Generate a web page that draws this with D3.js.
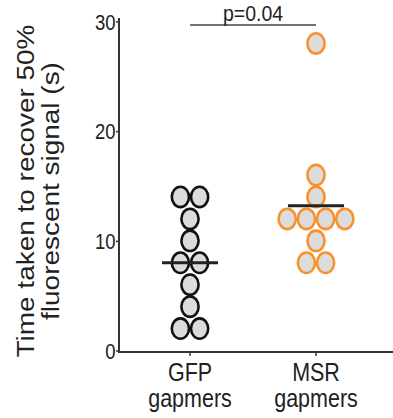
<!DOCTYPE html>
<meta charset="utf-8">
<title>Recovery time dot plot</title>
<style>
body { margin: 0; background: #fff; }
text { font-family: "Liberation Sans", Arial, sans-serif; fill: #222; }
</style>
<script src="https://d3js.org/d3.v7.min.js"></script>
<div id="chart"></div>
<script>
// data
var groups = ["GFP", "MSR"];
var groupLabels = [["GFP", "gapmers"], ["MSR", "gapmers"]];
var gfpValues = [14, 14, 12, 10, 8, 8, 6, 4, 2, 2];
var msrValues = [28, 16, 14, 12, 12, 12, 12, 10, 8, 8];
var yTicks = [0, 10, 20, 30];
var pLabel = "p=0.04";
var strokeColors = { GFP: "#111", MSR: "#f7922e" };

var width = 393, height = 418;
var stretch = 1.17; // the source figure is a bit taller than wide

var svg = d3.select("#chart").append("svg")
  .attr("width", width)
  .attr("height", height);

var y = d3.scaleLinear().domain([0, 30]).range([350.5, 21.5]);
var x = d3.scalePoint().domain(groups).range([190, 316]);

var axisX = 119, axisY = 352;

// y axis
var yAxis = svg.append("g")
  .attr("transform", "translate(" + axisX + ",0)")
  .call(d3.axisLeft(y).tickValues(yTicks).tickSize(3).tickSizeOuter(0));
yAxis.select(".domain").remove();
yAxis.selectAll("line").attr("stroke", "#333").attr("stroke-width", 1.5);
yAxis.selectAll("text")
  .attr("x", null).attr("dy", null)
  .attr("transform", "translate(-3.5,0) scale(1," + stretch + ")")
  .attr("dy", "0.36em")
  .style("font-size", "18.5px")
  .style("font-family", "Liberation Sans, Arial, sans-serif")
  .attr("fill", "#222");

svg.append("line")
  .attr("x1", axisX).attr("x2", axisX)
  .attr("y1", 18).attr("y2", axisY + 1)
  .attr("stroke", "#333").attr("stroke-width", 2);

// x axis
svg.append("line")
  .attr("x1", axisX - 1).attr("x2", width)
  .attr("y1", axisY).attr("y2", axisY)
  .attr("stroke", "#333").attr("stroke-width", 2);

svg.selectAll(".xtick").data(groups).enter().append("line")
  .attr("x1", function(d) { return x(d); }).attr("x2", function(d) { return x(d); })
  .attr("y1", axisY).attr("y2", axisY + 4)
  .attr("stroke", "#333").attr("stroke-width", 1.5);

groups.forEach(function(g, i) {
  groupLabels[i].forEach(function(t, j) {
    svg.append("text")
      .attr("transform", "translate(" + x(g) + "," + (381 + j * 26) + ") scale(1," + stretch + ")")
      .attr("text-anchor", "middle")
      .style("font-size", "21.5px")
      .text(t);
  });
});

// y title (stretched along its length)
var titleLines = ["Time taken to recover 50%", "fluorescent signal (s)"];
titleLines.forEach(function(t, j) {
  svg.append("text")
    .attr("transform", "translate(" + (34 + j * 25) + ",191) rotate(-90) scale(" + 1.19 + ",1)")
    .attr("text-anchor", "middle")
    .style("font-size", "23.5px")
    .text(t);
});

// beeswarm: spread equal values side by side
var spacing = 19.2;
function layout(group, values) {
  var counts = d3.rollup(values, function(v) { return v.length; }, function(d) { return d; });
  var seen = new Map();
  return values.map(function(v) {
    var n = counts.get(v), i = seen.get(v) || 0;
    seen.set(v, i + 1);
    return { group: group, value: v, dx: (i - (n - 1) / 2) * spacing };
  });
}
var dots = layout("GFP", gfpValues).concat(layout("MSR", msrValues));

svg.selectAll(".dot").data(dots).enter().append("ellipse")
  .attr("cx", function(d) { return x(d.group) + d.dx; })
  .attr("cy", function(d) { return y(d.value); })
  .attr("rx", 8.6)
  .attr("ry", 10.2)
  .attr("fill", "#dcdcdc")
  .attr("stroke", function(d) { return strokeColors[d.group]; })
  .attr("stroke-width", 2.6);

// mean lines
var means = [d3.mean(gfpValues), d3.mean(msrValues)];
svg.selectAll(".mean").data(groups).enter().append("line")
  .attr("x1", function(d) { return x(d) - 28; })
  .attr("x2", function(d) { return x(d) + 28; })
  .attr("y1", function(d, i) { return y(means[i]); })
  .attr("y2", function(d, i) { return y(means[i]); })
  .attr("stroke", "#222").attr("stroke-width", 3);

// significance bar
svg.append("line")
  .attr("x1", x("GFP")).attr("x2", x("MSR"))
  .attr("y1", 25).attr("y2", 25)
  .attr("stroke", "#444").attr("stroke-width", 1.3);
svg.append("text")
  .attr("transform", "translate(" + ((x("GFP") + x("MSR")) / 2) + ",21) scale(1," + stretch + ")")
  .attr("text-anchor", "middle")
  .style("font-size", "19.5px")
  .text(pLabel);
</script>
